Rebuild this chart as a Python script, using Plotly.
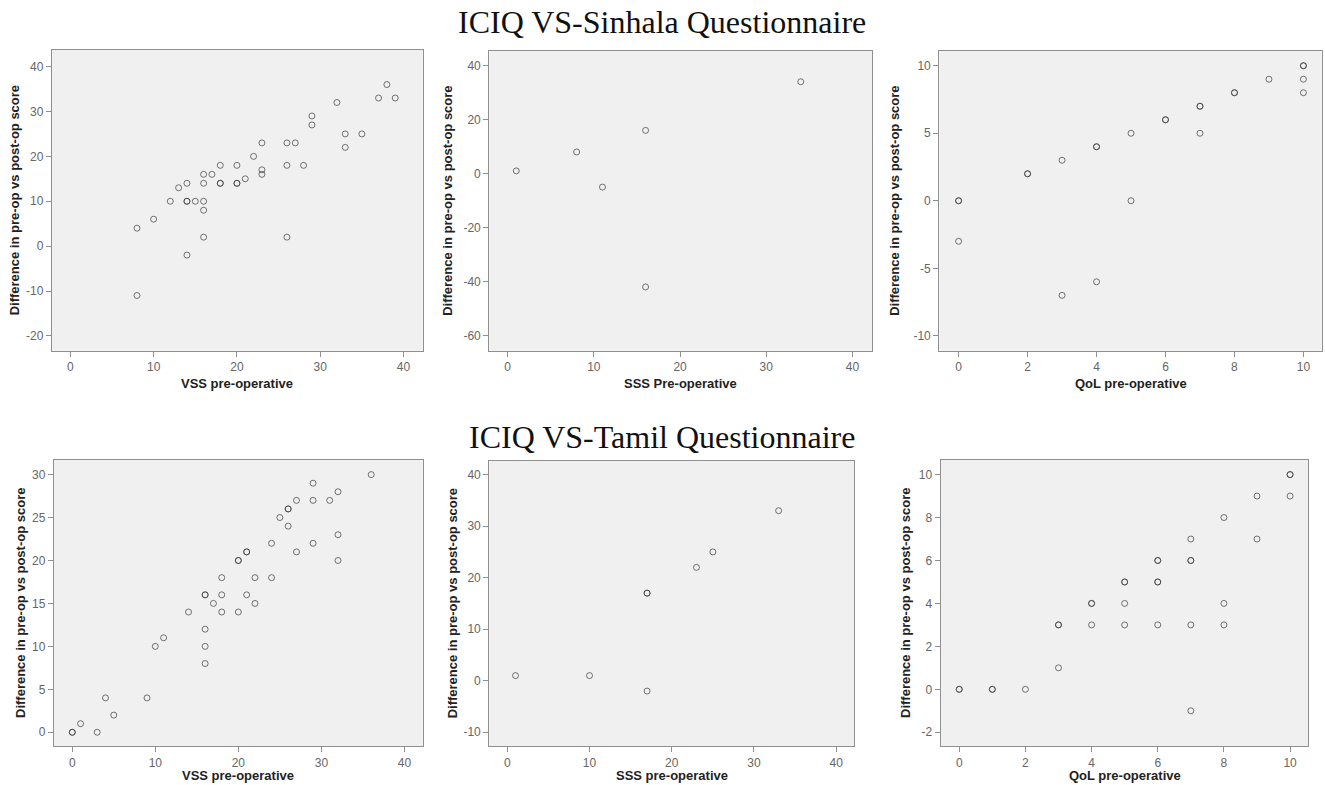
import plotly.graph_objects as go

# ---------------- data ----------------
# ICIQ VS-Sinhala
sin_vss_x = [8, 8, 10, 12, 13, 14, 14, 14, 14, 15, 16, 16, 16, 16, 16, 17, 18, 18, 18, 20, 20, 20,
             21, 22, 23, 23, 23, 26, 26, 26, 27, 28, 29, 29, 32, 33, 33, 35, 37, 38, 39]
sin_vss_y = [4, -11, 6, 10, 13, 14, 10, 10, -2, 10, 16, 14, 10, 8, 2, 16, 18, 14, 14, 18, 14, 14,
             15, 20, 23, 17, 16, 23, 18, 2, 23, 18, 29, 27, 32, 25, 22, 25, 33, 36, 33]

sin_sss_x = [1, 8, 11, 16, 16, 34]
sin_sss_y = [1, 8, -5, 16, -42, 34]

sin_qol_x = [0, 0, 0, 2, 2, 3, 3, 4, 4, 4, 5, 5, 6, 6, 7, 7, 7, 8, 8, 9, 10, 10, 10, 10]
sin_qol_y = [0, 0, -3, 2, 2, 3, -7, 4, 4, -6, 5, 0, 6, 6, 7, 7, 5, 8, 8, 9, 10, 10, 9, 8]

# ICIQ VS-Tamil
tam_vss_x = [0, 0, 1, 3, 4, 5, 9, 10, 11, 14, 16, 16, 16, 16, 16, 17, 18, 18, 18, 20, 20, 20,
             21, 21, 21, 22, 22, 24, 24, 25, 26, 26, 26, 27, 27, 29, 29, 29, 31, 32, 32, 32, 36]
tam_vss_y = [0, 0, 1, 0, 4, 2, 4, 10, 11, 14, 16, 16, 12, 10, 8, 15, 18, 16, 14, 20, 20, 14,
             21, 21, 16, 18, 15, 22, 18, 25, 26, 26, 24, 27, 21, 29, 27, 22, 27, 28, 23, 20, 30]

tam_sss_x = [1, 10, 17, 17, 17, 23, 25, 33]
tam_sss_y = [1, 1, 17, 17, -2, 22, 25, 33]

tam_qol_x = [0, 0, 1, 1, 2, 3, 3, 3, 4, 4, 4, 5, 5, 5, 5, 6, 6, 6, 6, 6, 7, 7, 7, 7, 7,
             8, 8, 8, 9, 9, 10, 10, 10]
tam_qol_y = [0, 0, 0, 0, 0, 3, 3, 1, 4, 4, 3, 5, 5, 4, 3, 6, 6, 5, 5, 3, 7, 6, 6, 3, -1,
             8, 4, 3, 9, 7, 10, 10, 9]

title_top = "ICIQ VS-Sinhala Questionnaire"
title_bottom = "ICIQ VS-Tamil Questionnaire"
y_title = "Difference in pre-op vs post-op score"
x_titles = ["VSS pre-operative", "SSS Pre-operative", "QoL pre-operative",
            "VSS pre-operative", "SSS pre-operative", "QoL pre-operative"]

x_ticks = [[0, 10, 20, 30, 40], [0, 10, 20, 30, 40], [0, 2, 4, 6, 8, 10],
           [0, 10, 20, 30, 40], [0, 10, 20, 30, 40], [0, 2, 4, 6, 8, 10]]
y_ticks = [[-20, -10, 0, 10, 20, 30, 40], [-60, -40, -20, 0, 20, 40], [-10, -5, 0, 5, 10],
           [0, 5, 10, 15, 20, 25, 30], [-10, 0, 10, 20, 30, 40], [-2, 0, 2, 4, 6, 8, 10]]

# ---------------- layout geometry (pixels) ----------------
W, H = 1325, 785
frames = [  # (left, right, top, bottom) in px
    (52, 422.7, 50, 350.7),
    (489.3, 872.3, 51, 350.7),
    (939.3, 1321.7, 51, 350.7),
    (54, 422.7, 460, 746),
    (489.3, 854.3, 460.7, 746),
    (940.7, 1308.3, 460, 746),
]
x_ranges = [(-2.2, 42.3), (-2.13, 42.3), (-0.56, 10.53),
            (-2.2, 42.2), (-2.19, 42.2), (-0.56, 10.55)]
y_ranges = [(-23.3, 43.7), (-65.6, 45.4), (-11.1, 11.09),
            (-1.6, 31.7), (-12.66, 42.7), (-2.64, 10.68)]
ytitle_x = [14, 448, 895, 20, 452, 905]
xtitle_y = [383.5, 383.5, 383.5, 775, 775, 775]

series = [(sin_vss_x, sin_vss_y), (sin_sss_x, sin_sss_y), (sin_qol_x, sin_qol_y),
          (tam_vss_x, tam_vss_y), (tam_sss_x, tam_sss_y), (tam_qol_x, tam_qol_y)]

fig = go.Figure()
axis_common = dict(showline=True, mirror=True, linecolor="#8f8f8f", linewidth=1.3,
                   ticks="outside", ticklen=5, tickcolor="#8f8f8f", tickwidth=1,
                   showgrid=False, zeroline=False,
                   tickfont=dict(family="Liberation Sans, Arial", size=12, color="#666666"))

annotations = []
for i, ((xs, ys), (l, r, t, b)) in enumerate(zip(series, frames)):
    n = "" if i == 0 else str(i + 1)
    fig.add_trace(go.Scatter(
        x=xs, y=ys, mode="markers", xaxis="x" + n, yaxis="y" + n,
        marker=dict(symbol="circle-open", size=6, color="rgba(60,60,60,0.7)",
                    line=dict(width=1, color="rgba(60,60,60,0.7)")),
        showlegend=False, hoverinfo="x+y"))
    xa = dict(axis_common, domain=[l / W, r / W], range=list(x_ranges[i]),
              anchor="y" + n, tickvals=x_ticks[i], ticktext=[str(v) for v in x_ticks[i]])
    ya = dict(axis_common, domain=[1 - b / H, 1 - t / H], range=list(y_ranges[i]),
              anchor="x" + n, tickvals=y_ticks[i],
              ticktext=[str(v) for v in y_ticks[i]])
    fig.layout["xaxis" + n] = xa
    fig.layout["yaxis" + n] = ya
    # axis titles
    annotations.append(dict(text="<b>" + x_titles[i] + "</b>", xref="paper", yref="paper",
                            x=(l + r) / 2 / W, y=1 - xtitle_y[i] / H, xanchor="center",
                            yanchor="middle", showarrow=False,
                            font=dict(family="Liberation Sans, Arial", size=13, color="#222222")))
    annotations.append(dict(text="<b>" + y_title + "</b>", xref="paper", yref="paper",
                            x=ytitle_x[i] / W, y=1 - (t + b) / 2 / H, xanchor="center",
                            yanchor="middle", textangle=-90, showarrow=False,
                            font=dict(family="Liberation Sans, Arial", size=13, color="#222222")))

annotations.append(dict(text=title_top, xref="paper", yref="paper", x=662 / W, y=1 - 22 / H,
                        xanchor="center", yanchor="middle", showarrow=False,
                        font=dict(family="Liberation Serif, Times New Roman", size=32, color="#111111")))
annotations.append(dict(text=title_bottom, xref="paper", yref="paper", x=662 / W, y=1 - 437 / H,
                        xanchor="center", yanchor="middle", showarrow=False,
                        font=dict(family="Liberation Serif, Times New Roman", size=32, color="#111111")))

fig.update_layout(width=W, height=H, margin=dict(l=0, r=0, t=0, b=0),
                  paper_bgcolor="white", plot_bgcolor="#f0f0f0",
                  annotations=annotations, showlegend=False)

fig.write_html("out.html")
